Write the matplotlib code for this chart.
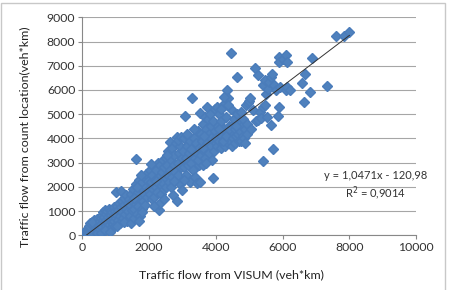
import numpy as np
import matplotlib
matplotlib.use("Agg")
import matplotlib.pyplot as plt
from matplotlib.patches import Rectangle

# values (VISUM flow, counted flow), veh*km
visum = [
    60, 80, 100, 120, 140, 150, 170, 180, 200, 210, 230, 250, 260, 280, 300, 310, 330, 350, 360, 380,
    400, 400, 420, 440, 460, 470, 480, 490, 220, 130, 330, 270, 190, 240, 350, 430, 450, 300,
    510, 520, 540, 550, 570, 580, 600, 610, 630, 640, 650, 670, 680, 700, 710, 720, 740, 750, 760, 780,
    790, 800, 820, 830, 850, 860, 870, 880, 900, 910, 920, 940, 950, 960, 980, 990, 1000, 560, 690, 830,
    1010, 1150, 1020, 1040, 1060, 1080, 1100, 1120, 1140, 1160, 1180, 1200, 1220, 1240, 1260, 1280, 1300,
    1320, 1340, 1360, 1380, 1400, 1420, 1440, 1460, 1480, 1500, 1050, 1250, 1450,
    1520, 1540, 1560, 1580, 1600, 1600, 1620, 1640, 1660, 1680, 1700, 1720, 1740, 1760, 1780, 1800, 1820,
    1840, 1860, 1880, 1900, 1920, 1940, 1960, 1980, 1700, 1800, 1550, 1650, 1750,
    2020, 2040, 2060, 2080, 2100, 2120, 2140, 2160, 2180, 2200, 2220, 2240, 2260, 2285, 2300, 2320, 2340,
    2360, 2380, 2400, 2420, 2440, 2460, 2480, 2500, 2300, 2150, 2450, 2050, 2200,
    2520, 2540, 2560, 2580, 2600, 2625, 2640, 2660, 2680, 2700, 2725, 2740, 2760, 2780, 2800, 2824, 2850,
    2860, 2880, 2900, 2920, 2940, 2960, 2974, 2990, 2550, 2650, 2750, 2870, 2950,
    3020, 3040, 3060, 3080, 3100, 3120, 3140, 3160, 3180, 3200, 3220, 3240, 3260, 3290, 3300, 3320, 3340,
    3360, 3380, 3400, 3423, 3440, 3460, 3480, 3500, 3050, 3150, 3350, 3450, 3250,
    3523, 3523, 3540, 3560, 3580, 3600, 3620, 3640, 3660, 3680, 3700, 3722, 3740, 3760, 3780, 3800, 3820,
    3840, 3860, 3880, 3900, 3920, 3940, 3960, 3980, 3600, 3700, 3850, 3950, 3650,
    4000, 4020, 4040, 4060, 4080, 4100, 4120, 4140, 4160, 4180, 4200, 4220, 4240, 4260, 4280, 4300, 4321,
    4340, 4360, 4371, 4380, 4400, 4420, 4440, 4451, 4460, 4480, 4500, 4100, 4200, 4300, 4400, 4150, 4250, 4350,
    4520, 4540, 4560, 4580, 4600, 4621, 4640, 4660, 4680, 4700, 4720, 4740, 4760, 4780, 4800, 4820, 4840,
    4860, 4880, 4900, 4920, 4940, 4970, 4990, 4600,
    5020, 5050, 5120, 5170, 5200, 5270, 5270, 5319, 5349, 5399, 5419, 5419, 5469, 5469, 5489, 5519, 5549,
    5598, 5638, 5638, 5668, 5718, 5750, 5800, 5848, 5878, 5878, 5898, 5930, 6018,
    6088, 6138, 6090, 6140, 6220, 6587, 6667, 6637, 6816, 6886, 7335, 7590, 7840, 8000,
]
counted = [
    30, 120, 60, 180, 90, 250, 140, 40, 200, 320, 110, 260, 420, 180, 330, 80, 450, 240, 520, 360,
    150, 470, 290, 560, 380, 200, 500, 320, 20, 10, 0, 60, 380, 500, 620, 90, 660, 560,
    420, 600, 250, 720, 480, 850, 330, 620, 950, 180, 750, 520, 1050, 380, 880, 650, 1000, 280, 760, 560,
    1100, 420, 900, 680, 1050, 300, 820, 560, 980, 450, 720, 1150, 600, 850, 380, 1000, 700, 100, 200, 150,
    1780, 1830, 900, 1200, 650, 1050, 1350, 800, 500, 1150, 950, 1400, 700, 1250, 1550, 900, 1100,
    1650, 600, 1350, 1000, 1500, 800, 1250, 1700, 1050, 1400, 400, 550, 500,
    1900, 1100, 700, 1600, 3140, 1300, 2100, 900, 1800, 1200, 2300, 1500, 800, 1950, 1100, 2200, 1400,
    1700, 2400, 1250, 2000, 2550, 1600, 2250, 1850, 600, 950, 1550, 2000, 2500,
    2700, 1700, 2200, 1500, 2500, 1900, 2800, 1600, 2300, 2000, 2700, 1800, 3000, 1045, 2400, 2100, 2900,
    1700, 2600, 2200, 3100, 1900, 2800, 2400, 3200, 1300, 1200, 1500, 2950, 2250,
    2000, 2900, 2500, 3500, 2200, 3870, 2700, 3100, 2400, 3600, 1665, 2900, 3300, 2600, 3800, 4073, 1400,
    3000, 2500, 3400, 2100, 3700, 2800, 1871, 3200, 3300, 2000, 2250, 3950, 4050,
    3500, 2800, 4000, 4940, 3200, 2500, 3700, 4100, 2900, 3400, 2200, 3900, 3000, 5680, 3600, 2700, 4000,
    3200, 2400, 3800, 2146, 3400, 4300, 2900, 3600, 2300, 4200, 4400, 3100, 3550,
    2215, 5036, 3300, 4200, 3900, 2900, 4600, 3500, 4900, 3200, 4400, 5311, 3800, 4800, 3400, 4200, 5000,
    3700, 4500, 3100, 4700, 2380, 3900, 5200, 4300, 3600, 3000, 4000, 3500, 4100,
    4000, 5300, 3700, 4500, 3900, 5000, 4200, 3600, 4700, 4100, 5400, 3800, 4400, 4000, 3700, 4900, 6000,
    4200, 3800, 5655, 4500, 4100, 3900, 5200, 7513, 4300, 3700, 4600, 4400, 3900, 4100, 4400, 5200, 5700, 5400,
    4000, 4800, 3800, 4400, 4100, 6522, 5000, 4200, 3900, 4600, 4300, 5100, 3900, 4500, 4100, 4800, 4000,
    4400, 3800, 5400, 4200, 4600, 5449, 5550, 4500,
    5655, 4400, 5174, 6894, 4700, 6619, 4760, 5105, 4830, 3068, 6206, 5311, 6412, 5380, 5820, 4900, 6027,
    6343, 6550, 4555, 6660, 3550, 6200, 6000, 4926, 5311, 7375, 7142, 6110, 7265,
    7430, 7142, 6000, 6110, 6000, 6275, 6660, 5518, 5903, 7300, 6165, 8230, 8240, 8380,
]

slope, intercept = 1.0471, -120.98
x_ticks = [0, 2000, 4000, 6000, 8000, 10000]
y_ticks = [0, 1000, 2000, 3000, 4000, 5000, 6000, 7000, 8000, 9000]

plt.rcParams['font.family'] = ['Lato', 'DejaVu Sans']

fig = plt.figure(figsize=(4.77, 2.90), dpi=100)
ax = fig.add_axes([0.1725, 0.1886, 0.7002, 0.7517])

ax.plot(visum, counted, linestyle='none', marker='D', markersize=4.6,
        color='#4f81bd', markeredgecolor='#4a7cba', zorder=3)

xs = np.array([min(visum), max(visum)])
ax.plot(xs, slope * xs + intercept, color='#333333', linewidth=0.7, zorder=4)

ax.set_xlim(0, 10000)
ax.set_ylim(0, 9000)
ax.set_xticks(x_ticks)
ax.set_yticks(y_ticks)
ax.tick_params(labelsize=8.8, colors='#333333', length=3, width=0.8, color='#888888', pad=2)
ax.yaxis.grid(True, color='#a6a6a6', linewidth=0.8)
ax.set_axisbelow(True)
for s in ['top', 'right']:
    ax.spines[s].set_visible(False)
for s in ['left', 'bottom']:
    ax.spines[s].set_color('#888888')
    ax.spines[s].set_linewidth(0.8)

ax.set_xlabel('Traffic flow from VISUM (veh*km)', fontsize=8.9, color='#222222')
ax.set_ylabel('Traffic flow from count location(veh*km)', fontsize=8.9, color='#222222')
ax.xaxis.set_label_coords(0.447, -0.155)
ax.yaxis.set_label_coords(-0.155, 0.45)

fig.text(0.787, 0.357, 'y = 1,0471x - 120,98\nR$^2$ = 0,9014', ha='center', va='center',
         multialignment='center', fontsize=8, color='#333333', linespacing=1.25)

fig.patches.append(Rectangle((0.002, -0.01), 0.931, 1.0, transform=fig.transFigure,
                             fill=False, edgecolor='#c8c8c8', linewidth=1.0))

fig.savefig('out.png', dpi=100)
